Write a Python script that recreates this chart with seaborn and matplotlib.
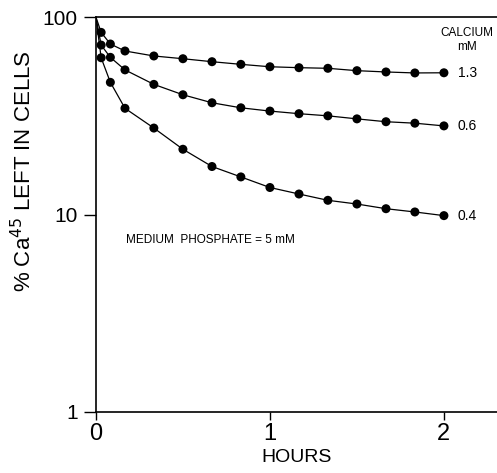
import numpy as np
import pandas as pd
import matplotlib
matplotlib.use("Agg")
import matplotlib.pyplot as plt
import seaborn as sns

# time points (hours) and % Ca45 left in cells
hours = [0, 0.03, 0.083, 0.167, 0.333, 0.5, 0.667, 0.833, 1.0,
         1.167, 1.333, 1.5, 1.667, 1.833, 2.0]
ca_13 = [100, 83.6, 73.0, 67.3, 63.5, 61.5, 59.4, 57.6, 56.0,
         55.4, 55.0, 53.5, 52.7, 52.1, 52.2]
ca_06 = [100, 72.1, 62.5, 54.0, 45.6, 40.4, 36.8, 34.7, 33.4,
         32.4, 31.6, 30.5, 29.5, 29.0, 28.1]
ca_04 = [100, 62.2, 46.7, 34.5, 27.4, 21.4, 17.5, 15.5, 13.7,
         12.7, 11.8, 11.3, 10.7, 10.3, 9.87]
calcium = ["1.3", "0.6", "0.4"]

df = pd.DataFrame({
    "hours": hours * 3,
    "pct": ca_13 + ca_06 + ca_04,
    "calcium": np.repeat(calcium, len(hours)),
})

sns.set_style("ticks", {"axes.edgecolor": "black", "text.color": "black",
                        "axes.labelcolor": "black", "xtick.color": "black",
                        "ytick.color": "black"})
plt.rcParams["font.family"] = ["Liberation Sans", "DejaVu Sans"]

fig = plt.figure(figsize=(4.97, 4.73), dpi=100)
ax = fig.add_axes([0.193, 0.129, 0.807, 0.835])

sns.lineplot(data=df, x="hours", y="pct", hue="calcium", palette=["black"] * 3,
             ax=ax, legend=False, linewidth=0.9, estimator=None, sort=False)
sns.scatterplot(data=df[df["hours"] > 0], x="hours", y="pct", hue="calcium",
                palette=["black"] * 3, ax=ax, legend=False, s=42,
                edgecolor="black", linewidth=0)

ax.set_yscale("log")
ax.set_ylim(1, 100)
ax.set_xlim(0, 2.305)
ax.set_yticks([1, 10, 100])
ax.set_yticklabels(["1", "10", "100"])
ax.yaxis.set_minor_locator(matplotlib.ticker.NullLocator())
ax.set_xticks([0, 1, 2])
ax.set_xticklabels(["0", "1", "2"])
ax.tick_params(axis="y", length=9, width=1, labelsize=15, pad=4)
ax.tick_params(axis="x", length=6, width=1, labelsize=17, pad=2)

for side in ["left", "bottom", "top"]:
    ax.spines[side].set_linewidth(1.2)
ax.spines["right"].set_visible(False)

ax.set_xlabel("HOURS", fontsize=14, labelpad=3)
ax.set_ylabel("% Ca$^{45}$ LEFT IN CELLS", fontsize=16)
ax.yaxis.set_label_coords(-0.15, 0.61)

for lab, vals in zip(calcium, [ca_13, ca_06, ca_04]):
    ax.text(hours[-1] + 0.08, vals[-1], lab, fontsize=10, va="center", ha="left")

ax.text(2.13, 66, "CALCIUM\nmM", fontsize=8.5, ha="center", va="bottom",
        linespacing=1.2)
ax.text(0.17, 7.4, "MEDIUM  PHOSPHATE = 5 mM", fontsize=8.5, ha="left", va="center")

fig.savefig("out.png", dpi=100)
